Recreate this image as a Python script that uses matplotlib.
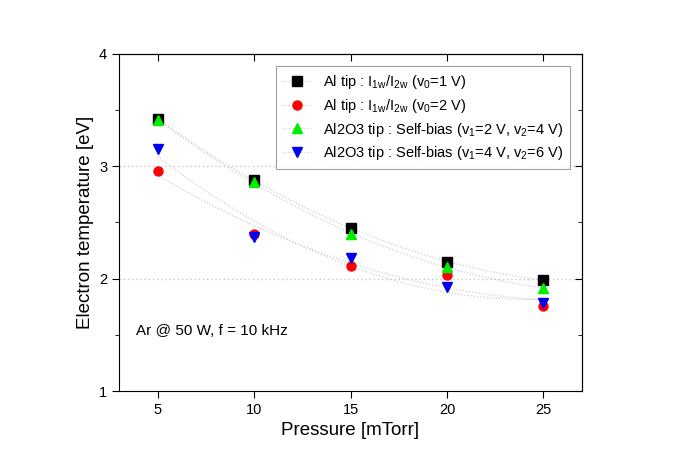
import numpy as np
from matplotlib import pyplot as plt
from matplotlib.lines import Line2D

plt.rcParams['font.family'] = ['Liberation Sans', 'DejaVu Sans']
plt.rcParams['mathtext.default'] = 'regular'

pressure = [5, 10, 15, 20, 25]
al_v1 = [3.42, 2.88, 2.45, 2.15, 1.99]
al_v2 = [2.96, 2.40, 2.11, 2.03, 1.76]
al2o3_24 = [3.41, 2.86, 2.40, 2.10, 1.92]
al2o3_46 = [3.15, 2.37, 2.18, 1.93, 1.78]

labels = [
    r'Al tip : I$_{1w}$/I$_{2w}$ (v$_0$=1 V)',
    r'Al tip : I$_{1w}$/I$_{2w}$ (v$_0$=2 V)',
    r'Al2O3 tip : Self-bias (v$_1$=2 V, v$_2$=4 V)',
    r'Al2O3 tip : Self-bias (v$_1$=4 V, v$_2$=6 V)',
]
series = [al_v1, al_v2, al2o3_24, al2o3_46]
colors = ['black', 'red', '#00ee00', '#0000ee']
markers = ['s', 'o', '^', 'v']
fit_color = '#cfcfcf'

fig = plt.figure(figsize=(6.74, 4.69), dpi=100)
ax = fig.add_axes([0.1766, 0.1663, 0.6869, 0.7186])

# horizontal grid lines
for yv in [2, 3]:
    ax.axhline(yv, color='#c8c8c8', lw=1, ls=(0, (1, 2)), zorder=0)

# fitted decay curves from the data (quadratic fit)
xs = np.linspace(5, 25, 100)
handles = []
for vals, c, m, lab in zip(series, colors, markers, labels):
    coef = np.polyfit(pressure, vals, 2)
    ax.plot(xs, np.polyval(coef, xs), color=fit_color, lw=0.9, ls=(0, (1, 1.5)), zorder=1)
    ax.plot(pressure, vals, ls='none', marker=m, markersize=6.5,
            markerfacecolor=c, markeredgecolor=c, zorder=3)
    handles.append(Line2D([], [], color=fit_color, lw=0.9, ls=(0, (1, 1.5)),
                          marker=m, markersize=6.5, markerfacecolor=c,
                          markeredgecolor=c, label=lab))

ax.set_xlim(3, 27)
ax.set_ylim(1, 4)
ax.set_xticks([5, 10, 15, 20, 25])
ax.set_yticks([1, 2, 3, 4])
ax.set_yticks([1.5, 2.5, 3.5], minor=True)
ax.tick_params(which='both', direction='out', labelsize=10.5)
ax.tick_params(which='major', length=5)
ax.tick_params(which='minor', length=3)

sec_x = ax.secondary_xaxis('top')
sec_x.set_xticks([5, 10, 15, 20, 25])
sec_x.set_xticklabels([])
sec_x.tick_params(direction='in', length=5)
sec_y = ax.secondary_yaxis('right')
sec_y.set_yticks([1, 2, 3, 4])
sec_y.set_yticks([1.5, 2.5, 3.5], minor=True)
sec_y.set_yticklabels([])
sec_y.tick_params(which='both', direction='in', length=5)
sec_y.tick_params(which='minor', length=3)

ax.set_xlabel('Pressure [mTorr]', fontsize=13.5)
ax.set_ylabel('Electron temperature [eV]', fontsize=13.5)
ax.text(0.037, 0.165, 'Ar @ 50 W, f = 10 kHz', transform=ax.transAxes, fontsize=11)

leg = ax.legend(handles=handles, loc='upper right', bbox_to_anchor=(0.99, 0.985),
                fontsize=10.5, frameon=True, fancybox=False, edgecolor='#888888',
                handlelength=2.0, borderpad=0.45, labelspacing=0.4)
leg.get_frame().set_linewidth(0.8)

fig.savefig('out.png', dpi=100)
